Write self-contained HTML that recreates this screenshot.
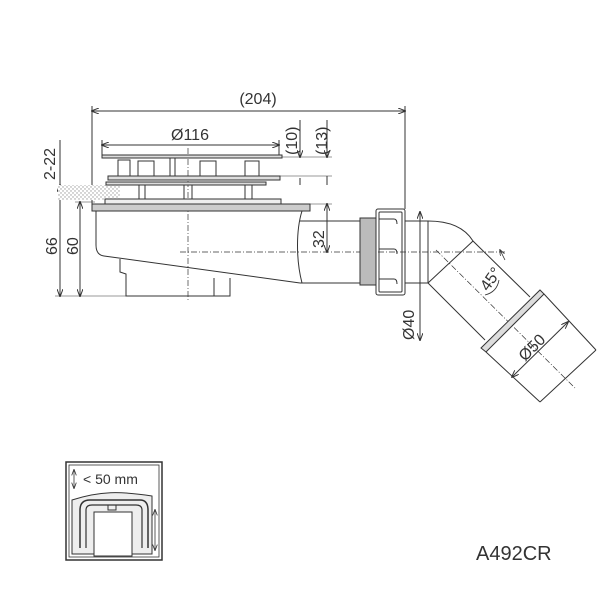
<!DOCTYPE html>
<html><head><style>body{margin:0;background:#fff}svg{display:block}text{font-family:"Liberation Sans",sans-serif;fill:#333}</style></head><body>
<svg width="600" height="600" viewBox="0 0 600 600" xmlns="http://www.w3.org/2000/svg">
<defs><pattern id="h" width="4" height="4" patternUnits="userSpaceOnUse"><rect width="4" height="4" fill="#fff"/><circle cx="1" cy="1" r="0.7" fill="#999"/><circle cx="3" cy="3" r="0.7" fill="#999"/></pattern>
<marker id="a" markerWidth="8" markerHeight="6" refX="7" refY="3" orient="auto-start-reverse"><path d="M0,0 L8,3 L0,6" fill="none" stroke="#333" stroke-width="1"/></marker></defs>
<g stroke="#333" stroke-width="1" fill="none">
<line x1="92" y1="111" x2="405" y2="111" marker-start="url(#a)" marker-end="url(#a)"/>
<line x1="92" y1="106" x2="92" y2="204"/><line x1="405" y1="106" x2="405" y2="209"/>
<line x1="102" y1="145" x2="279" y2="145" marker-start="url(#a)" marker-end="url(#a)"/>
<line x1="102" y1="140" x2="102" y2="155"/><line x1="279" y1="140" x2="279" y2="155"/>
<line x1="300" y1="120" x2="300" y2="157" marker-end="url(#a)"/><line x1="300" y1="178" x2="300" y2="185" />
<line x1="327" y1="120" x2="327" y2="157" marker-end="url(#a)"/><line x1="327" y1="176" x2="327" y2="185"/>
<line x1="282" y1="157" x2="332" y2="157" stroke-width="0.6"/><line x1="280" y1="176" x2="332" y2="176" stroke-width="0.6"/>
<line x1="60" y1="140" x2="60" y2="185"/>
<line x1="60" y1="185" x2="60" y2="296" marker-start="url(#a)" marker-end="url(#a)"/>
<line x1="80" y1="202" x2="80" y2="296" marker-start="url(#a)" marker-end="url(#a)"/>
<line x1="55" y1="296" x2="130" y2="296" stroke-width="0.6"/><line x1="75" y1="202" x2="95" y2="202" stroke-width="0.6"/>
<line x1="327" y1="204" x2="327" y2="252" marker-start="url(#a)" marker-end="url(#a)"/>
<line x1="310" y1="204" x2="332" y2="204" stroke-width="0.6"/>
<line x1="420" y1="212" x2="420" y2="340" marker-start="url(#a)" marker-end="url(#a)"/>
<line x1="188" y1="148" x2="188" y2="300" stroke-dasharray="6,2,1,2" stroke-width="0.7"/>
<line x1="180" y1="252" x2="505" y2="252" stroke-dasharray="6,2,1,2" stroke-width="0.7"/>
<line x1="436" y1="250" x2="575" y2="388" stroke-dasharray="6,2,1,2" stroke-width="0.7"/>
<rect x="58" y="185" width="62" height="15" fill="url(#h)" stroke="none"/>
<rect x="102" y="155" width="180" height="3" fill="#ddd"/>
<rect x="108" y="176" width="172" height="4" fill="#ddd"/>
<rect x="106" y="182" width="160" height="3" fill="#ddd"/>
<rect x="118" y="160" width="12" height="16"/><rect x="138" y="161" width="16" height="15"/><rect x="200" y="161" width="16" height="15"/><rect x="245" y="161" width="14" height="15"/>
<line x1="170" y1="158" x2="170" y2="176"/><line x1="175" y1="158" x2="175" y2="176"/>
<line x1="139" y1="185" x2="139" y2="199"/><line x1="145" y1="185" x2="145" y2="199"/><line x1="184" y1="185" x2="184" y2="199"/><line x1="192" y1="185" x2="192" y2="199"/><line x1="245" y1="185" x2="245" y2="199"/><line x1="252" y1="185" x2="252" y2="199"/>
<rect x="105" y="199" width="176" height="5" fill="#eee"/>
<rect x="92" y="204" width="218" height="7" fill="#ccc"/>
<path d="M96,211 L96,245 Q96,255 104,256 L300,283 M302,211 C296,230 296,260 302,283"/>
<path d="M120,259 L120,272 L126,274 L126,296 L230,296 L230,278" />
<line x1="214" y1="278" x2="214" y2="296"/>
<line x1="300" y1="221" x2="360" y2="221"/><line x1="300" y1="283" x2="360" y2="283"/>
<rect x="360" y="218" width="16" height="67" fill="#bbb"/>
<rect x="376" y="209" width="29" height="86" rx="2"/>
<rect x="379" y="212" width="23" height="80" rx="1"/>
<path d="M379,219 L394,219 Q397,219 397,224 M379,249 L394,249 Q397,249 397,254 M379,279 L394,279 Q397,279 397,284"/>
<path d="M405,221 L428,221 L428,283 L405,283"/>
<path d="M428,221 C450,221 465,228 473,241 L530,297"/>
<path d="M428,283 L485,340"/>
<line x1="428" y1="283" x2="473" y2="241"/>
<path d="M540,290 L544,294 L486,352 L481,348 Z" fill="#ddd"/>
<path d="M544,294 L596,350 M486,352 L540,402 M596,350 L540,402"/>
<line x1="512" y1="377" x2="568" y2="322" marker-start="url(#a)" marker-end="url(#a)"/>
<path d="M485,295 Q497,292 499,280" stroke-width="0.8"/>
<line x1="505" y1="260" x2="500" y2="250" marker-end="url(#a)" stroke-width="0.8"/>
<rect x="66" y="462" width="96" height="98" stroke-width="1.5"/>
<rect x="69" y="465" width="90" height="92" stroke-width="0.8"/>
<path d="M72,500 L72,554 L152,554 L152,496 C120,491 100,491 72,500 Z" fill="#eee"/>
<path d="M80,548 L80,510 Q80,500 90,500 L140,500 Q148,500 148,510 L148,548" stroke-width="1.5"/>
<path d="M86,548 L86,510 Q86,505 92,505 L136,505 Q142,505 142,510 L142,548" stroke-width="1.2"/>
<path d="M108,505 L108,510 L116,510 L116,505" stroke-width="1"/>
<rect x="94" y="512" width="38" height="44" fill="#fff"/>
<line x1="155" y1="510" x2="155" y2="550" marker-start="url(#a)" marker-end="url(#a)" stroke-width="0.8"/>
<line x1="74" y1="470" x2="74" y2="488" marker-start="url(#a)" marker-end="url(#a)" stroke-width="0.8"/>
</g>
<text x="258" y="104" font-size="16" text-anchor="middle">(204)</text>
<text x="190" y="140" font-size="16" text-anchor="middle">Ø116</text>
<text font-size="16" transform="translate(297,155) rotate(-90)">(10)</text>
<text font-size="16" transform="translate(327,155) rotate(-90)">(13)</text>
<text font-size="16" transform="translate(55,180) rotate(-90)">2-22</text>
<text font-size="16" transform="translate(57,255) rotate(-90)">66</text>
<text font-size="16" transform="translate(78,255) rotate(-90)">60</text>
<text font-size="16" transform="translate(324,248) rotate(-90)">32</text>
<text font-size="16" transform="translate(414,340) rotate(-90)">Ø40</text>
<text font-size="16" transform="translate(488,292) rotate(-55)">45°</text>
<text font-size="16" transform="translate(525,362) rotate(-45)">Ø50</text>
<text x="83" y="484" font-size="14">&lt; 50 mm</text>
<text x="476" y="560" font-size="20">A492CR</text>
</svg>
</body></html>
